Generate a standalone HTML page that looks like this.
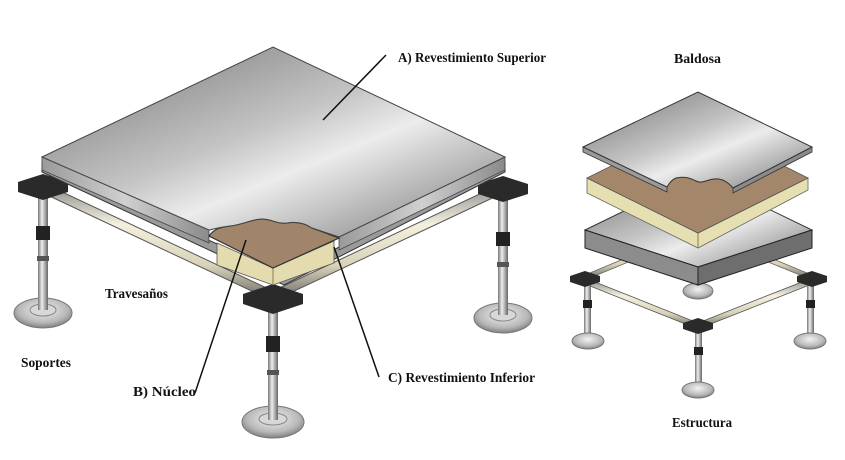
<!DOCTYPE html>
<html><head><meta charset="utf-8"><style>
html,body{margin:0;padding:0;background:#fff;}
svg{display:block}
text{font-family:"Liberation Serif",serif;font-weight:bold;font-size:14px;fill:#111}
</style></head><body>
<svg width="845" height="460" viewBox="0 0 845 460" xmlns="http://www.w3.org/2000/svg">
<defs>
<linearGradient id="metal" x1="0" y1="0" x2="1" y2="1">
<stop offset="0" stop-color="#707070"/><stop offset="0.45" stop-color="#c4c4c4"/><stop offset="0.6" stop-color="#ececec"/><stop offset="0.85" stop-color="#a0a0a0"/><stop offset="1" stop-color="#7e7e7e"/>
</linearGradient>
<linearGradient id="side" x1="0" y1="0" x2="1" y2="0">
<stop offset="0" stop-color="#9a9a9a"/><stop offset="0.5" stop-color="#d0d0d0"/><stop offset="1" stop-color="#8a8a8a"/>
</linearGradient>
<linearGradient id="stem" x1="0" y1="0" x2="1" y2="0">
<stop offset="0" stop-color="#777"/><stop offset="0.4" stop-color="#eee"/><stop offset="1" stop-color="#666"/>
</linearGradient>
<radialGradient id="base" cx="0.5" cy="0.4" r="0.6">
<stop offset="0" stop-color="#f2f2f2"/><stop offset="0.7" stop-color="#b8b8b8"/><stop offset="1" stop-color="#808080"/>
</radialGradient>
<linearGradient id="rail" x1="0" y1="0" x2="0" y2="1">
<stop offset="0" stop-color="#888"/><stop offset="0.35" stop-color="#f4f0de"/><stop offset="0.7" stop-color="#d8d2b8"/><stop offset="1" stop-color="#666"/>
</linearGradient>
</defs>

<polygon points="43,183 273,291 273,301 43,193" fill="url(#rail)" stroke="#555" stroke-width="1"/>
<polygon points="273,291 503,183 503,193 273,301" fill="url(#rail)" stroke="#555" stroke-width="1"/>

<rect x="38" y="188" width="10" height="122" fill="url(#stem)"/>
<rect x="36" y="226" width="14" height="14" fill="#222"/>
<rect x="37" y="256" width="12" height="5" fill="#555"/>
<ellipse cx="43" cy="313" rx="29" ry="15" fill="url(#base)" stroke="#777"/>
<ellipse cx="43" cy="310" rx="13" ry="6" fill="#d8d8d8" stroke="#888"/>
<rect x="38" y="290" width="10" height="20" fill="url(#stem)"/>
<path d="M18,182 L43,174 L68,182 L68,192 L43,200 L18,192Z" fill="#2a2a2a"/>
<rect x="498" y="190" width="10" height="122" fill="url(#stem)"/>
<rect x="496" y="232" width="14" height="14" fill="#222"/>
<rect x="497" y="262" width="12" height="5" fill="#555"/>
<ellipse cx="503" cy="318" rx="29" ry="15" fill="url(#base)" stroke="#777"/>
<ellipse cx="503" cy="315" rx="13" ry="6" fill="#d8d8d8" stroke="#888"/>
<rect x="498" y="295" width="10" height="20" fill="url(#stem)"/>
<path d="M478,184 L503,176 L528,184 L528,194 L503,202 L478,194Z" fill="#2a2a2a"/>
<rect x="268" y="298" width="10" height="120" fill="url(#stem)"/>
<rect x="266" y="336" width="14" height="16" fill="#222"/>
<rect x="267" y="370" width="12" height="5" fill="#555"/>
<ellipse cx="273" cy="422" rx="31" ry="16" fill="url(#base)" stroke="#777"/>
<ellipse cx="273" cy="419" rx="14" ry="6" fill="#d8d8d8" stroke="#888"/>
<rect x="268" y="398" width="10" height="22" fill="url(#stem)"/>
<path d="M243,294 L273,284 L303,294 L303,304 L273,314 L243,304Z" fill="#2a2a2a"/>

<polygon points="42,163 284,275 505,163 505,172 284,285 42,172" fill="#9a9a9a" stroke="#333" stroke-width="1"/>
<polygon points="42,157 209,230 209,243 42,170" fill="url(#side)" stroke="#444" stroke-width="0.8"/>
<polygon points="339,237 505,157 505,170 339,250" fill="url(#side)" stroke="#444" stroke-width="0.8"/>
<polygon points="217,243 273,268 334,241 334,263 273,285 217,265" fill="#e4dcae" stroke="#555" stroke-width="0.8"/>
<line x1="273" y1="268" x2="273" y2="285" stroke="#8a7d55"/>
<path d="M209,236 C214,229 220,227 230,226 C245,224 252,219 262,219 C272,219 276,224 287,223 C298,221 306,224 312,228 L339,238 L273,268 Z" fill="#a0856a" stroke="#333" stroke-width="1.2"/>
<path d="M42,157 L273,47 L505,157 L339,237 L312,228 C306,224 298,221 287,223 C276,224 272,219 262,219 C252,219 245,224 230,226 C220,227 214,229 209,230 Z" fill="url(#metal)" stroke="#444" stroke-width="1"/>

<line x1="386" y1="55" x2="323" y2="120" stroke="#111" stroke-width="1.5"/>
<line x1="246" y1="240" x2="195" y2="393" stroke="#111" stroke-width="1.5"/>
<line x1="334" y1="247" x2="379" y2="377" stroke="#111" stroke-width="1.5"/>

<text x="398" y="62" textLength="148" lengthAdjust="spacingAndGlyphs">A) Revestimiento Superior</text>
<text x="105" y="298" textLength="63" lengthAdjust="spacingAndGlyphs">Travesaños</text>
<text x="21" y="367" textLength="50" lengthAdjust="spacingAndGlyphs">Soportes</text>
<text x="133" y="396" textLength="63" lengthAdjust="spacingAndGlyphs">B) N&#250;cleo</text>
<text x="388" y="382" textLength="147" lengthAdjust="spacingAndGlyphs">C) Revestimiento Inferior</text>

<polygon points="585,275 698,228 698,233 585,280" fill="url(#rail)" stroke="#666" stroke-width="0.8"/>
<polygon points="698,228 812,275 812,280 698,233" fill="url(#rail)" stroke="#666" stroke-width="0.8"/>
<rect x="695" y="270" width="6" height="20" fill="url(#stem)"/>
<ellipse cx="698" cy="291" rx="15" ry="8" fill="url(#base)" stroke="#777"/>
<polygon points="585,230 698,175 812,230 698,267" fill="url(#metal)" stroke="#333" stroke-width="1"/>
<polygon points="585,230 698,267 698,285 585,248" fill="#8c8c8c" stroke="#222" stroke-width="1"/>
<polygon points="698,267 812,230 812,248 698,285" fill="#6e6e6e" stroke="#222" stroke-width="1"/>
<polygon points="587,178 698,233 808,178 808,190 698,248 587,193" fill="#e6dfb2" stroke="#666" stroke-width="0.8"/>
<line x1="698" y1="233" x2="698" y2="248" stroke="#8a7d55"/>
<polygon points="587,178 698,123 808,178 698,233" fill="#a4876b" stroke="#555" stroke-width="0.8"/>
<polygon points="583,147 667,187 667,192 583,152" fill="#9a9a9a" stroke="#333" stroke-width="0.8"/>
<polygon points="733,188 812,147 812,152 733,193" fill="#8a8a8a" stroke="#333" stroke-width="0.8"/>
<path d="M583,147 L698,92 L812,147 L733,188 C728,182 722,178 714,179 C706,180 702,184 696,181 C690,178 684,176 676,178 C671,180 669,184 667,187 Z" fill="url(#metal)" stroke="#333" stroke-width="1"/>

<polygon points="585,278 698,323 698,329 585,284" fill="url(#rail)" stroke="#555" stroke-width="0.8"/>
<polygon points="698,323 812,278 812,284 698,329" fill="url(#rail)" stroke="#555" stroke-width="0.8"/>
<g>
<rect x="584" y="280" width="7" height="58" fill="url(#stem)"/>
<rect x="583" y="300" width="9" height="8" fill="#222"/>
<ellipse cx="588" cy="341" rx="16" ry="8" fill="url(#base)" stroke="#777"/>
<path d="M570,276 L585,271 L600,276 L600,282 L585,287 L570,282Z" fill="#2a2a2a"/>
</g>
<g>
<rect x="807" y="280" width="7" height="58" fill="url(#stem)"/>
<rect x="806" y="300" width="9" height="8" fill="#222"/>
<ellipse cx="810" cy="341" rx="16" ry="8" fill="url(#base)" stroke="#777"/>
<path d="M797,276 L812,271 L827,276 L827,282 L812,287 L797,282Z" fill="#2a2a2a"/>
</g>
<g>
<rect x="695" y="327" width="7" height="60" fill="url(#stem)"/>
<rect x="694" y="347" width="9" height="8" fill="#222"/>
<ellipse cx="698" cy="390" rx="16" ry="8" fill="url(#base)" stroke="#777"/>
<path d="M683,323 L698,318 L713,323 L713,329 L698,334 L683,329Z" fill="#2a2a2a"/>
</g>

<text x="674" y="63" textLength="47" lengthAdjust="spacingAndGlyphs">Baldosa</text>
<text x="672" y="427" textLength="60" lengthAdjust="spacingAndGlyphs">Estructura</text>
</svg>
</body></html>
